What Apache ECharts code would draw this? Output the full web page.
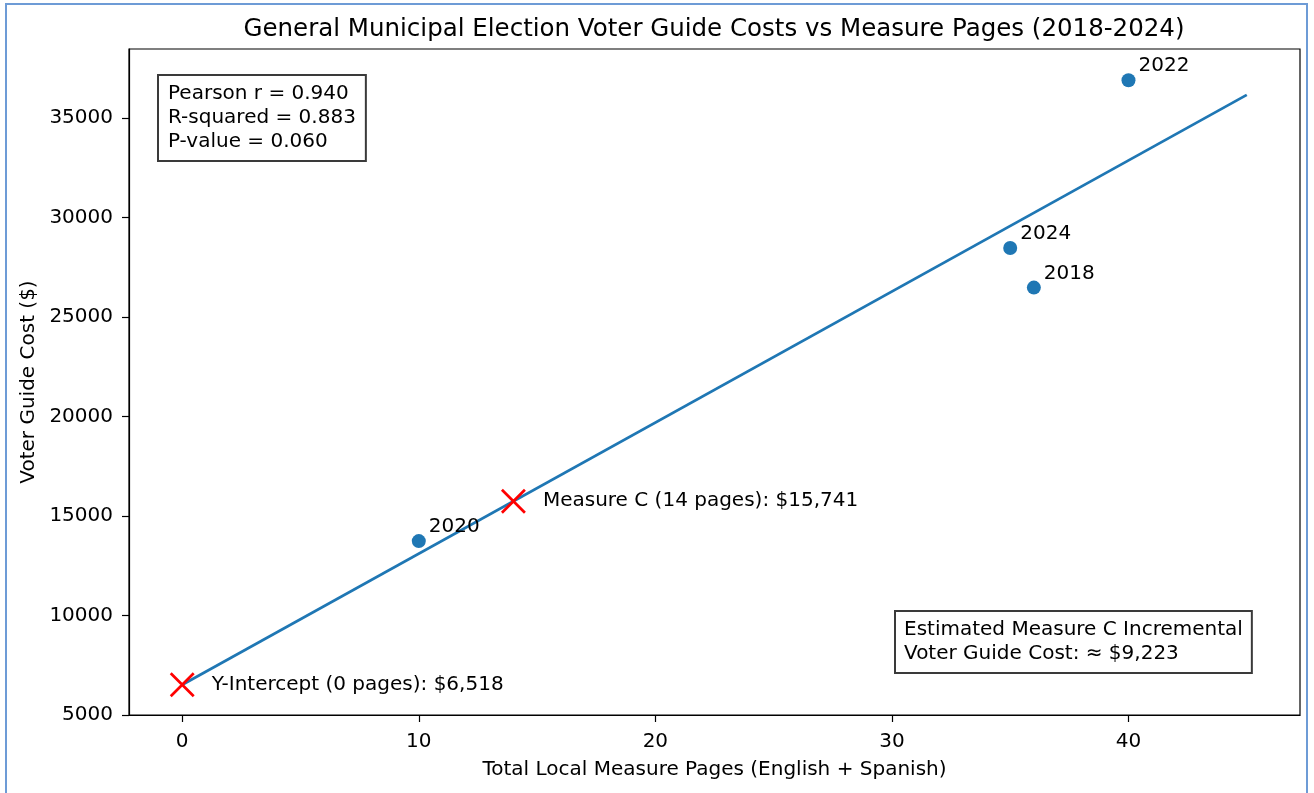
<!DOCTYPE html>
<html>
<head>
<meta charset="utf-8">
<script src="https://cdn.jsdelivr.net/npm/echarts@6/dist/echarts.min.js"></script>
<style>
html,body{margin:0;padding:0;background:#fff;}
#chart{width:1314px;height:793px;}
</style>
</head>
<body>
<div id="chart"></div>
<script>
// ---- data ----
const years = ['2018', '2020', '2022', '2024'];
const pages = [36, 10, 40, 35];
const costs = [26480, 13740, 36900, 28470];
const fitPages = [0, 45];
const fitCosts = [6518, 36163];
const interceptPoint = [0, 6518];
const measureCPoint = [14, 15741];
const xTicks = [0, 10, 20, 30, 40];
const yTicks = [5000, 10000, 15000, 20000, 25000, 30000, 35000];
const statsLines = ['Pearson r = 0.940', 'R-squared = 0.883', 'P-value = 0.060'];
const incrementalLines = ['Estimated Measure C Incremental', 'Voter Guide Cost: \u2248 $9,223'];

const FONT = 'DejaVu Sans';
const BLUE = '#1f77b4';
const xPath = 'path://M0,0L10,10M10,0L0,10';

const chart = echarts.init(document.getElementById('chart'), null, {renderer: 'canvas'});

const scatterData = pages.map((p, i) => ({value: [p, costs[i]], name: years[i]}));

const option = {
  animation: false,
  backgroundColor: '#fff',
  textStyle: {fontFamily: FONT},
  title: {
    text: 'General Municipal Election Voter Guide Costs vs Measure Pages (2018-2024)',
    left: 714, top: 17, textAlign: 'center', padding: 0,
    textStyle: {fontFamily: FONT, fontSize: 24.5, fontWeight: 'normal', color: '#000'}
  },
  grid: {left: 129, right: 14, top: 49, bottom: 78, show: true, borderColor: '#000', borderWidth: 1.2, containLabel: false},
  xAxis: {
    type: 'value', min: -2.25, max: 47.25,
    name: 'Total Local Measure Pages (English + Spanish)',
    nameLocation: 'middle', nameGap: 45,
    nameTextStyle: {fontFamily: FONT, fontSize: 20, color: '#000'},
    axisLine: {show: true, onZero: false, lineStyle: {color: '#000', width: 1.2}},
    axisTick: {show: true, length: 7, lineStyle: {color: '#000', width: 1.2}, customValues: xTicks},
    axisLabel: {fontFamily: FONT, fontSize: 20, color: '#000', margin: 17, customValues: xTicks,
                formatter: v => String(v)},
    splitLine: {show: false}
  },
  yAxis: {
    type: 'value', min: 5000, max: 38472,
    name: 'Voter Guide Cost ($)',
    nameLocation: 'middle', nameGap: 80,
    nameTextStyle: {fontFamily: FONT, fontSize: 20, color: '#000'},
    axisLine: {show: true, onZero: false, lineStyle: {color: '#000', width: 1.2}},
    axisTick: {show: true, length: 7, lineStyle: {color: '#000', width: 1.2}, customValues: yTicks},
    axisLabel: {fontFamily: FONT, fontSize: 20, color: '#000', margin: 16, customValues: yTicks,
                formatter: v => String(v)},
    splitLine: {show: false}
  },
  series: [
    {
      type: 'line',
      data: fitPages.map((p, i) => [p, fitCosts[i]]),
      showSymbol: false, symbol: 'none',
      lineStyle: {color: BLUE, width: 2.7},
      z: 2
    },
    {
      type: 'scatter',
      data: scatterData,
      symbol: 'circle', symbolSize: 14,
      itemStyle: {color: BLUE, opacity: 1},
      label: {
        show: true, position: 'right', distance: 3,
        offset: [0, -14],
        formatter: p => p.name,
        fontFamily: FONT, fontSize: 20, color: '#000'
      },
      z: 3
    },
    {
      type: 'scatter',
      data: [{value: interceptPoint, name: 'Y-Intercept (0 pages): $6,518'},
             {value: measureCPoint, name: 'Measure C (14 pages): $15,741'}],
      symbol: xPath, symbolSize: 23,
      itemStyle: {color: 'none', borderColor: '#ff0000', borderWidth: 2.7, opacity: 1},
      label: {
        show: true, position: 'right', distance: 15.5,
        formatter: p => p.name,
        fontFamily: FONT, fontSize: 20, color: '#000'
      },
      z: 4
    }
  ],
  graphic: [
    {
      type: 'polyline', silent: true,
      shape: {points: [[6, 793], [6, 4], [1307, 4], [1307, 793]]},
      style: {stroke: '#6d9bd6', lineWidth: 2, fill: null}
    },
    {
      type: 'text', left: 157, top: 74, z: 10,
      style: {
        text: statsLines.join('\n'),
        font: '20px "DejaVu Sans"', fill: '#000', lineHeight: 24,
        backgroundColor: '#fff', borderColor: '#3a3a3a', borderWidth: 2,
        padding: [6, 9, 6, 9]
      }
    },
    {
      type: 'text', left: 894, top: 610, z: 10,
      style: {
        text: incrementalLines.join('\n'),
        font: '20px "DejaVu Sans"', fill: '#000', lineHeight: 24,
        backgroundColor: '#fff', borderColor: '#3a3a3a', borderWidth: 2,
        padding: [6, 8, 6, 8]
      }
    }
  ]
};
chart.setOption(option);
</script>
</body>
</html>
